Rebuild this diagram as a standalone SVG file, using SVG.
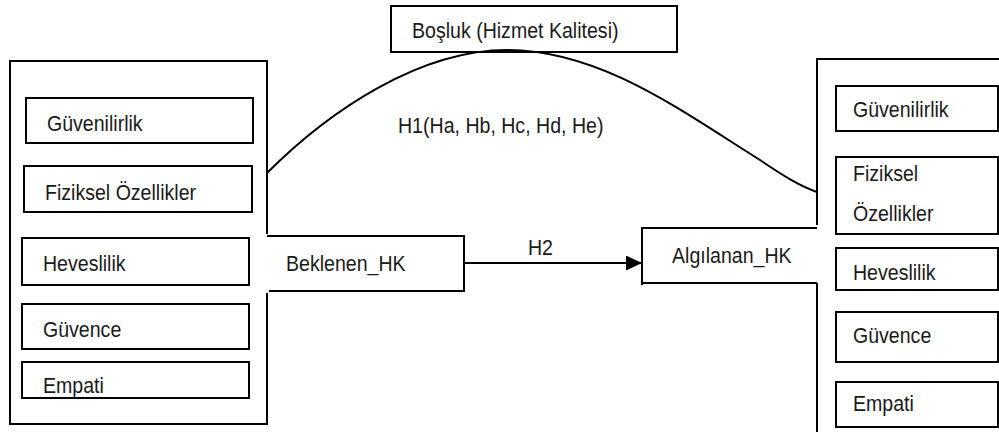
<svg xmlns="http://www.w3.org/2000/svg" width="999" height="432" viewBox="0 0 999 432">
<style>
.b{fill:none;stroke:#000;stroke-width:2}
.t{font-family:"Liberation Sans",Arial,sans-serif;font-size:21.5px;fill:#1a1a1a}
</style>
<defs>
<marker id="ah" markerWidth="16" markerHeight="15" refX="16" refY="7.5" orient="auto" markerUnits="userSpaceOnUse">
<path d="M0,0 L16,7.5 L0,15 Z" fill="#000"/>
</marker>
</defs>
<rect width="999" height="432" fill="#fff"/>
<g id="left-group">
<path class="b" d="M267,234 V61 H10 V424 H267 V293"/>
</g>
<g id="l-guvenilirlik"><rect class="b" x="26" y="98" width="227" height="45"/><text class="t" transform="translate(47,131) scale(0.91,1)">Güvenilirlik</text></g>
<g id="l-fiziksel"><rect class="b" x="24" y="166" width="228" height="46"/><text class="t" transform="translate(45,200) scale(0.91,1)">Fiziksel Özellikler</text></g>
<g id="l-heveslilik"><rect class="b" x="22" y="238" width="227" height="47"/><text class="t" transform="translate(43,271) scale(0.91,1)">Heveslilik</text></g>
<g id="l-guvence"><rect class="b" x="22" y="304" width="227" height="45"/><text class="t" transform="translate(43,337) scale(0.91,1)">Güvence</text></g>
<g id="l-empati"><rect class="b" x="22" y="362" width="227" height="36"/><text class="t" transform="translate(43,393) scale(0.91,1)">Empati</text></g>
<g id="beklenen">
<path class="b" d="M267,236 H464 V291 H269"/>
<text class="t" transform="translate(286,271) scale(0.91,1)">Beklenen_HK</text>
</g>
<g id="bosluk"><rect class="b" x="391" y="6" width="286" height="46"/><text class="t" transform="translate(412,38) scale(0.91,1)">Boşluk (Hizmet Kalitesi)</text></g>
<g id="right-group">
<path class="b" d="M1000,59 H817 V225"/>
<path class="b" d="M817,283 V434"/>
</g>
<g id="algilanan">
<path class="b" d="M817,228 H642 V285 M642,283 H817"/>
<text class="t" transform="translate(672,263) scale(0.91,1)">Algılanan_HK</text>
</g>
<g id="r-guvenilirlik"><rect class="b" x="836" y="86" width="162" height="45"/><text class="t" transform="translate(853,117) scale(0.91,1)">Güvenilirlik</text></g>
<g id="r-fiziksel"><rect class="b" x="836" y="157" width="162" height="77"/><text class="t" transform="translate(853,181) scale(0.91,1)">Fiziksel</text><text class="t" transform="translate(853,221) scale(0.91,1)">Özellikler</text></g>
<g id="r-heveslilik"><rect class="b" x="836" y="248" width="162" height="42"/><text class="t" transform="translate(853,280) scale(0.91,1)">Heveslilik</text></g>
<g id="r-guvence"><rect class="b" x="836" y="312" width="162" height="50"/><text class="t" transform="translate(853,343) scale(0.91,1)">Güvence</text></g>
<g id="r-empati"><rect class="b" x="836" y="382" width="162" height="45"/><text class="t" transform="translate(853,411) scale(0.91,1)">Empati</text></g>
<g id="connectors">
<path class="b" d="M267,173 C330,110 420,50 507,50 C600,50 680,110 760,160 C785,177 800,186 817,192"/>
<line class="b" x1="464" y1="263" x2="642" y2="263" marker-end="url(#ah)"/>
<text class="t" transform="translate(398,133) scale(0.91,1)">H1(Ha, Hb, Hc, Hd, He)</text>
<text class="t" transform="translate(528,255) scale(0.91,1)">H2</text>
</g>
</svg>
